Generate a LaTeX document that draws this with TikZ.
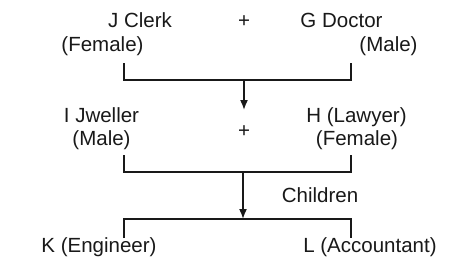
\documentclass[tikz,border=0pt]{standalone}
\usepackage{fontspec}
\setmainfont{Liberation Sans}
\usetikzlibrary{arrows.meta}
\begin{document}
\begin{tikzpicture}[x=1pt,y=-1pt,
  lbl/.style={inner sep=0pt,anchor=base,font=\fontsize{20.5}{24}\selectfont,text=black!90},
  ln/.style={line width=1.6pt,draw=black!90},
  arr/.style={ln,-{Latex[length=10pt,width=8pt]}}]
\useasboundingbox[fill=white] (0,0) rectangle (460,271);
% generation 1
\node[lbl] (jc) at (140,27) {J Clerk};
\node[lbl] (jf) at (102.5,51) {(Female)};
\node[lbl] (p1) at (244,27) {+};
\node[lbl] (gd) at (341.5,27) {G Doctor};
\node[lbl] (gm) at (388.5,51) {(Male)};
% generation 2
\node[lbl] (ij) at (101.5,122) {I Jweller};
\node[lbl] (im) at (101.5,145) {(Male)};
\node[lbl] (p2) at (244,137) {+};
\node[lbl] (hl) at (356.5,122) {H (Lawyer)};
\node[lbl] (hf) at (357,145) {(Female)};
% children
\node[lbl] (ch) at (320,202) {Children};
\node[lbl] (k) at (99,252) {K (Engineer)};
\node[lbl] (l) at (370,252) {L (Accountant)};
% bracket coordinates
\coordinate (a1) at (124,63);
\coordinate (a2) at (351,63);
\coordinate (am) at (244,80);
\coordinate (at) at (244,110);
\coordinate (b1) at (124,155);
\coordinate (b2) at (351,155);
\coordinate (bm) at (243,172);
\coordinate (ct) at (243,219);
\coordinate (c1) at (124,238);
\coordinate (c2) at (351,238);
\draw[ln] (a1) |- (am) -| (a2);
\draw[arr] (am) -- (at);
\draw[ln] (b1) |- (bm) -| (b2);
\draw[arr] (bm) -- (ct);
\draw[ln] (c1) |- (ct) -| (c2);
\end{tikzpicture}
\end{document}
